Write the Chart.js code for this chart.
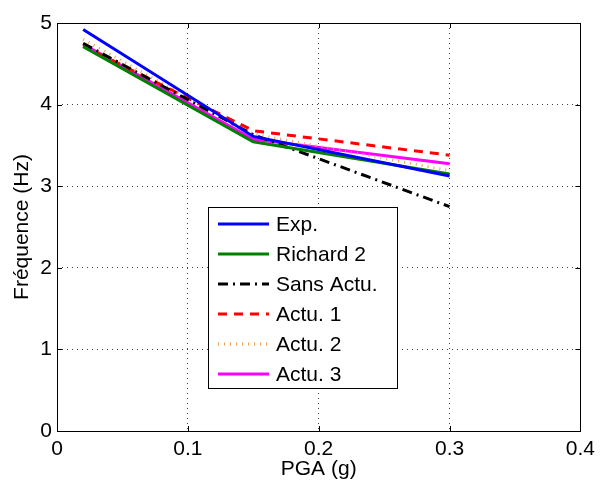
<!DOCTYPE html>
<html>
<head>
<meta charset="utf-8">
<script src="https://cdn.jsdelivr.net/npm/chart.js@4.4.1/dist/chart.umd.min.js"></script>
<style>
  html, body { margin: 0; padding: 0; background: #fff; }
  #wrap { width: 601px; height: 482px; }
</style>
</head>
<body>
<div id="wrap"><canvas id="chart" width="601" height="482"></canvas></div>
<script>
/* Data */
var pga = [0.02, 0.15, 0.3];
var labels = ['Exp.', 'Richard 2', 'Sans Actu.', 'Actu. 1', 'Actu. 2', 'Actu. 3'];
var exp = [4.92, 3.61, 3.125];
var richard2 = [4.71, 3.545, 3.15];
var sansActu = [4.75, 3.63, 2.75];
var actu1 = [4.72, 3.68, 3.38];
var actu2 = [4.80, 3.64, 3.19];
var actu3 = [4.74, 3.575, 3.275];
var xTicks = [0, 0.1, 0.2, 0.3, 0.4];
var yTicks = [0, 1, 2, 3, 4, 5];

var FONT = 'Liberation Sans, Arial, Helvetica, sans-serif';

var pts = function(ys){
	return ys.map(function(y, i){ return { x: pga[i], y: y }; });
};

var series = [
	{ data: exp, color: 'rgb(0,0,255)', dash: [] },
	{ data: richard2, color: 'rgb(0,128,0)', dash: [] },
	{ data: sansActu, color: 'rgb(0,0,0)', dash: [10, 5, 2, 5] },
	{ data: actu1, color: 'rgb(255,0,0)', dash: [9, 7] },
	{ data: actu2, color: 'rgb(240,160,80)', dash: [1, 5] },
	{ data: actu3, color: 'rgb(255,0,255)', dash: [] }
];

var datasets = series.map(function(s, i){
	return {
		label: labels[i],
		data: pts(s.data),
		borderColor: s.color,
		backgroundColor: s.color,
		borderWidth: 3,
		borderDash: s.dash,
		pointRadius: 0,
		fill: false,
		tension: 0
	};
});

/* frame, inward ticks and legend box, matlab style */
var framePlugin = {
	id: 'frame',
	afterDatasetsDraw: function(chart){
		var ctx = chart.ctx;
		var a = chart.chartArea;
		var xs = chart.scales.x, ys = chart.scales.y;
		ctx.save();
		ctx.strokeStyle = '#000';
		ctx.lineWidth = 1;
		ctx.setLineDash([]);
		ctx.strokeRect(Math.round(a.left) + 0.5, Math.round(a.top) + 0.5,
			Math.round(a.right - a.left), Math.round(a.bottom - a.top));
		ctx.beginPath();
		xTicks.forEach(function(v){
			var px = Math.round(xs.getPixelForValue(v)) + 0.5;
			ctx.moveTo(px, a.bottom); ctx.lineTo(px, a.bottom - 5);
			ctx.moveTo(px, a.top); ctx.lineTo(px, a.top + 5);
		});
		yTicks.forEach(function(v){
			var py = Math.round(ys.getPixelForValue(v)) + 0.5;
			ctx.moveTo(a.left, py); ctx.lineTo(a.left + 5, py);
			ctx.moveTo(a.right, py); ctx.lineTo(a.right - 5, py);
		});
		ctx.stroke();

		// legend
		var bx = 208.5, by = 207.5, bw = 189, bh = 181;
		ctx.fillStyle = '#fff';
		ctx.fillRect(bx, by, bw, bh);
		ctx.strokeRect(bx, by, bw, bh);
		ctx.font = '21px ' + FONT;
		ctx.textBaseline = 'middle';
		ctx.textAlign = 'left';
		chart.data.datasets.forEach(function(d, i){
			var cy = 224 + i * 30;
			ctx.strokeStyle = d.borderColor;
			ctx.lineWidth = 3;
			ctx.setLineDash(d.borderDash);
			ctx.beginPath();
			ctx.moveTo(218, cy); ctx.lineTo(269, cy);
			ctx.stroke();
			ctx.fillStyle = '#000';
			ctx.fillText(d.label, 276, cy + 1);
		});
		ctx.restore();
	}
};

var chart = new Chart(document.getElementById('chart'), {
	type: 'line',
	data: { datasets: datasets },
	options: {
		responsive: false,
		animation: false,
		layout: { padding: { top: 23, right: 15, left: 0, bottom: 0 } },
		plugins: { legend: { display: false }, tooltip: { enabled: false } },
		scales: {
			x: {
				type: 'linear', min: 0, max: 0.4,
				afterBuildTicks: function(s){ s.ticks = xTicks.map(function(v){ return { value: v }; }); },
				afterFit: function(s){ s.height = 51; },
				ticks: {
					color: '#000', padding: 6, maxRotation: 0,
					font: { family: FONT, size: 21 },
					callback: function(v){ return String(v); }
				},
				grid: { color: 'rgba(0,0,0,0.75)', drawTicks: false, lineWidth: 1 },
				border: { display: false, dash: [1, 4] },
				title: { display: true, text: 'PGA (g)', color: '#000', padding: 0, font: { family: FONT, size: 21 } }
			},
			y: {
				min: 0, max: 5,
				afterBuildTicks: function(s){ s.ticks = yTicks.map(function(v){ return { value: v }; }); },
				afterFit: function(s){ s.width = 57; },
				ticks: {
					color: '#000', padding: 5,
					font: { family: FONT, size: 21 }
				},
				grid: { color: 'rgba(0,0,0,0.75)', drawTicks: false, lineWidth: 1 },
				border: { display: false, dash: [1, 4] },
				title: { display: true, text: 'Fréquence (Hz)', color: '#000', padding: { top: 10 }, font: { family: FONT, size: 21 } }
			}
		}
	},
	plugins: [framePlugin]
});
</script>
</body>
</html>
